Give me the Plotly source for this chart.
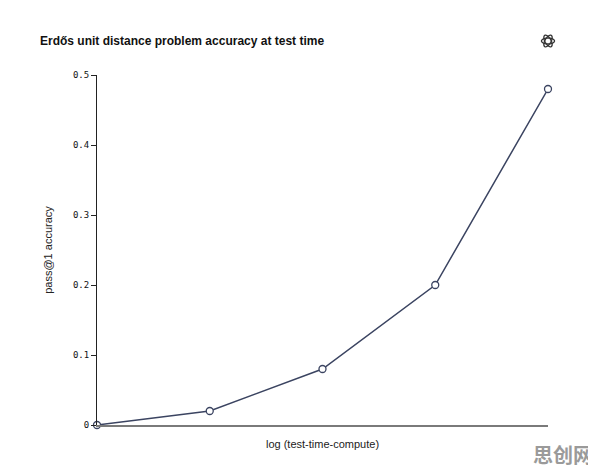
import math
import plotly.graph_objects as go

# data
compute_steps = [0, 1, 2, 3, 4]
accuracy = [0.0, 0.02, 0.08, 0.20, 0.48]
y_ticks = [0, 0.1, 0.2, 0.3, 0.4, 0.5]
y_tick_labels = ["0", "0.1", "0.2", "0.3", "0.4", "0.5"]

_LINE = "#3b4461"
_SANS = "Liberation Sans, Arial, Helvetica, sans-serif"
_MONO = "DejaVu Sans Mono, Liberation Mono, monospace"

# the page adds an 8px body margin, so the figure is drawn 8px smaller
W, H = 588, 463
L, T, R, B = 89, 67, 48, 46
PW, PH = W - L - R, H - T - B

fig = go.Figure(go.Scatter(
    x=compute_steps, y=accuracy,
    mode="lines+markers",
    line=dict(color=_LINE, width=1.5),
    marker=dict(size=7, color="white", line=dict(color=_LINE, width=1.3)),
    cliponaxis=False,
    showlegend=False,
))

fig.update_layout(
    width=W, height=H,
    margin=dict(l=L, r=R, t=T, b=B),
    paper_bgcolor="white",
    plot_bgcolor="white",
    title=dict(
        text="Erdős unit distance problem accuracy at test time",
        x=32 / W, xanchor="left", xref="container",
        y=1 - 33 / H, yanchor="middle", yref="container",
        font=dict(family=_SANS, size=12, color="#111", weight="bold"),
    ),
)

fig.update_xaxes(
    range=[0, 4],
    showgrid=False, zeroline=False,
    showticklabels=False, ticks="",
    showline=True, linecolor="#7a7a7a", linewidth=2,
    title=dict(text="log (test-time-compute)", standoff=14,
               font=dict(family=_SANS, size=11, color="#222")),
)

fig.update_yaxes(
    range=[0, 0.5],
    tickvals=y_ticks, ticktext=y_tick_labels,
    showgrid=False, zeroline=False,
    ticks="outside", ticklen=5, tickcolor="#222", tickwidth=1,
    tickfont=dict(family=_MONO, size=9, color="#111"),
    showline=True, linecolor="#222", linewidth=1,
    title=dict(text="pass@1 accuracy", standoff=18,
               font=dict(family=_SANS, size=11, color="#222")),
)

# rosette logo in the top right corner, drawn as three rotated ellipses
logo_x, logo_y = 540, 33  # figure pixels
for k in range(3):
    ang = math.pi * k / 3
    pts = []
    for i in range(41):
        t = 2 * math.pi * i / 40
        ex, ey = 6.5 * math.cos(t), 3.0 * math.sin(t)
        dx = ex * math.cos(ang) - ey * math.sin(ang)
        dy = ex * math.sin(ang) + ey * math.cos(ang)
        xp = (logo_x + dx - L) / PW
        yp = (H - B - (logo_y - dy)) / PH
        pts.append((xp, yp))
    path = "M " + " L ".join(f"{a:.5f},{b:.5f}" for a, b in pts) + " Z"
    fig.add_shape(type="path", path=path, xref="paper", yref="paper",
                  line=dict(color="#333", width=1.3))

# watermark
fig.add_annotation(
    text="思创网", xref="paper", yref="paper",
    x=(587 - L) / PW, y=(H - B - 447) / PH,
    xanchor="right", yanchor="middle", showarrow=False,
    font=dict(family="Noto Sans CJK SC", size=20, color="#9a9a9a", weight="bold"),
)

fig.write_html("out.html")
